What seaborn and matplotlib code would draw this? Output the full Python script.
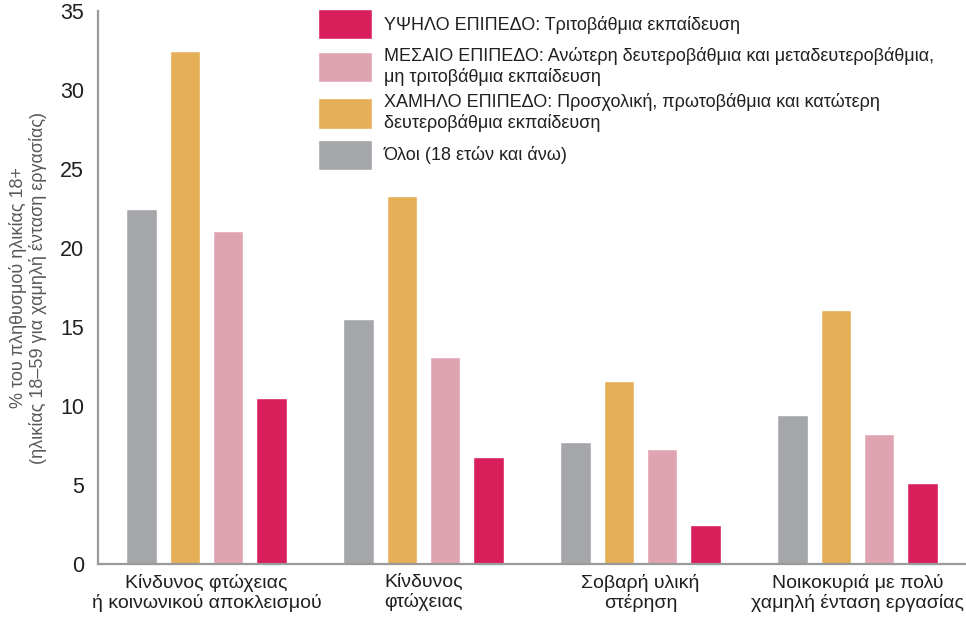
import seaborn as sns
import matplotlib.pyplot as plt
import pandas as pd
from matplotlib.ticker import FixedLocator

# --- data ---
categories = [
    "Κίνδυνος φτώχειας\nή κοινωνικού αποκλεισμού",
    "Κίνδυνος\nφτώχειας",
    "Σοβαρή υλική\nστέρηση",
    "Νοικοκυριά με πολύ\nχαμηλή ένταση εργασίας",
]
series_names = [
    "Όλοι (18 ετών και άνω)",
    "ΧΑΜΗΛΟ ΕΠΙΠΕΔΟ: Προσχολική, πρωτοβάθμια και κατώτερη\nδευτεροβάθμια εκπαίδευση",
    "ΜΕΣΑΙΟ ΕΠΙΠΕΔΟ: Ανώτερη δευτεροβάθμια και μεταδευτεροβάθμια,\nμη τριτοβάθμια εκπαίδευση",
    "ΥΨΗΛΟ ΕΠΙΠΕΔΟ: Τριτοβάθμια εκπαίδευση",
]
all_adults = [22.5, 15.5, 7.7, 9.4]
low_level = [32.5, 23.3, 11.6, 16.1]
mid_level = [21.1, 13.1, 7.3, 8.2]
high_level = [10.5, 6.8, 2.5, 5.1]
colors = ["#a5a6aa", "#e5af58", "#e0a3b1", "#d81e5b"]

rows = []
for name, vals in zip(series_names, [all_adults, low_level, mid_level, high_level]):
    for cat, v in zip(categories, vals):
        rows.append({"category": cat, "series": name, "value": v})
df = pd.DataFrame(rows)

sns.set_theme(style="white")
plt.rcParams["font.family"] = ["Liberation Sans", "DejaVu Sans"]

fig = plt.figure(figsize=(9.66, 6.17), dpi=100)
ax = fig.add_axes([98 / 966, 53 / 617, 868 / 966, 553 / 617])

sns.barplot(data=df, x="category", y="value", hue="series", order=categories,
            hue_order=series_names, palette=colors, width=0.8, gap=0.3,
            saturation=1, errorbar=None, ax=ax)

ax.set_xlim(-0.5, 3.5)
ax.set_ylim(0, 35)
ax.set_yticks(range(0, 36, 5))
ax.tick_params(axis="y", direction="in", length=7, width=1.2, color="#9a9a9a",
               labelsize=15.5, labelcolor="#231f20", pad=10)
ax.tick_params(axis="x", which="major", length=0, labelsize=14,
               labelcolor="#231f20", pad=7)
ax.xaxis.set_minor_locator(FixedLocator([0.5, 1.5, 2.5]))
ax.tick_params(axis="x", which="minor", direction="in", length=10, width=1.2,
               color="#9a9a9a")
for lab in ax.get_xticklabels():
    lab.set_linespacing(1.15)

for side in ["top", "right"]:
    ax.spines[side].set_visible(False)
for side in ["left", "bottom"]:
    ax.spines[side].set_color("#9a9a9a")
    ax.spines[side].set_linewidth(1.6)

ax.set_xlabel("")
ax.set_ylabel("% του πληθυσμού ηλικίας 18+\n(ηλικίας 18–59 για χαμηλή ένταση εργασίας)",
              fontsize=13, color="#58595b", labelpad=9, linespacing=1.15)

handles, labels = ax.get_legend_handles_labels()
ax.legend(handles[::-1], labels[::-1], loc="upper left",
          bbox_to_anchor=(318 / 966, 1 - 9 / 617), bbox_transform=fig.transFigure,
          frameon=False, fontsize=13, handlelength=3.0, handleheight=2.2,
          handletextpad=0.65, labelspacing=0.42, borderpad=0, borderaxespad=0,
          labelcolor="#231f20")

fig.savefig("out.png", dpi=100)
